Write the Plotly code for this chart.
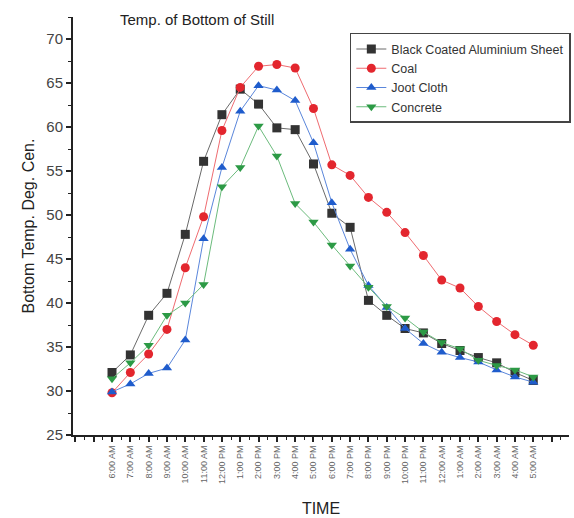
import plotly.graph_objects as go

# Hourly readings, 6 AM through 5 AM next day
times = ["6:00 AM", "7:00 AM", "8:00 AM", "9:00 AM", "10:00 AM", "11:00 AM",
         "12:00 PM", "1:00 PM", "2:00 PM", "3:00 PM", "4:00 PM", "5:00 PM",
         "6:00 PM", "7:00 PM", "8:00 PM", "9:00 PM", "10:00 PM", "11:00 PM",
         "12:00 AM", "1:00 AM", "2:00 AM", "3:00 AM", "4:00 AM", "5:00 AM"]

black_sheet = [32.1, 34.1, 38.6, 41.1, 47.8, 56.1, 61.4, 64.3, 62.6, 59.9, 59.7, 55.8,
               50.2, 48.6, 40.3, 38.6, 37.1, 36.6, 35.4, 34.6, 33.8, 33.2, 32.1, 31.2]
coal = [29.8, 32.1, 34.2, 37.0, 44.0, 49.8, 59.6, 64.5, 66.9, 67.1, 66.7, 62.1,
        55.7, 54.5, 52.0, 50.3, 48.0, 45.4, 42.6, 41.7, 39.6, 37.9, 36.4, 35.2]
joot_cloth = [29.9, 30.8, 32.0, 32.6, 35.8, 47.3, 55.4, 61.8, 64.7, 64.2, 63.0, 58.2,
              51.4, 46.1, 42.0, 39.5, 37.1, 35.4, 34.4, 33.8, 33.3, 32.4, 31.6, 31.0]
concrete = [31.4, 33.2, 35.2, 38.6, 40.0, 42.1, 53.2, 55.4, 60.1, 56.7, 51.3, 49.2,
            46.6, 44.2, 41.8, 39.6, 38.3, 36.7, 35.5, 34.8, 33.5, 32.9, 32.4, 31.6]

series = [
    ("Black Coated Aluminium Sheet", black_sheet, "square", "#333333", "#6a6a6a"),
    ("Coal", coal, "circle", "#e3262e", "#ef6b70"),
    ("Joot Cloth", joot_cloth, "triangle-up", "#1f5ccc", "#5a86db"),
    ("Concrete", concrete, "triangle-down", "#2c9a45", "#6bbb7c"),
]

x = list(range(len(times)))
font_family = "Arial, Liberation Sans, sans-serif"

fig = go.Figure()
for name, vals, symbol, mcolor, lcolor in series:
    fig.add_trace(go.Scatter(
        x=x, y=vals, name=name, mode="lines+markers",
        line=dict(color=lcolor, width=1),
        marker=dict(symbol=symbol, size=9, color=mcolor, line=dict(width=0)),
    ))

# major ticks on every hour (plus two unlabeled ones beyond the data)
tick_vals = list(range(-2, 25))
tick_text = [times[v] if 0 <= v < len(times) else "" for v in tick_vals]

fig.update_layout(
    width=574, height=518,
    margin=dict(l=73, r=4, t=17, b=83),
    paper_bgcolor="white", plot_bgcolor="white",
    font=dict(family=font_family, color="#222"),
    showlegend=True,
    legend=dict(
        x=0.557, y=0.962, xanchor="left", yanchor="top",
        bgcolor="white", bordercolor="#444", borderwidth=1.5,
        font=dict(size=12.5, color="#333"),
        itemwidth=30, tracegroupgap=0,
    ),
    annotations=[dict(
        text="Temp. of Bottom of Still", xref="paper", yref="paper",
        x=0.09, y=0.993, xanchor="left", yanchor="middle",
        showarrow=False, font=dict(size=15, color="#222"),
    )],
)

fig.update_xaxes(
    range=[-2.13, 24.95], tickmode="array", tickvals=tick_vals, ticktext=tick_text,
    tickangle=-90, tickfont=dict(size=9, color="#666"),
    showline=True, linecolor="#222", linewidth=2, showgrid=False, zeroline=False,
    ticks="outside", ticklen=5, tickwidth=1.5, tickcolor="#222",
    minor=dict(tickmode="linear", tick0=0.5, dtick=1, ticks="outside", ticklen=3,
               tickwidth=1, tickcolor="#222", showgrid=False),
    title=dict(text="TIME", font=dict(size=16, color="#222"), standoff=20),
)
fig.update_yaxes(
    range=[25, 72.5], tickmode="linear", tick0=25, dtick=5,
    tickfont=dict(size=15, color="#444"),
    showline=True, linecolor="#222", linewidth=2, showgrid=False, zeroline=False,
    ticks="outside", ticklen=5, tickwidth=1.5, tickcolor="#222",
    minor=dict(tickmode="linear", tick0=27.5, dtick=5, ticks="outside", ticklen=3,
               tickwidth=1, tickcolor="#222", showgrid=False),
    title=dict(text="Bottom Temp. Deg. Cen.", font=dict(size=16, color="#222"), standoff=8),
)

fig.write_html("out.html")
